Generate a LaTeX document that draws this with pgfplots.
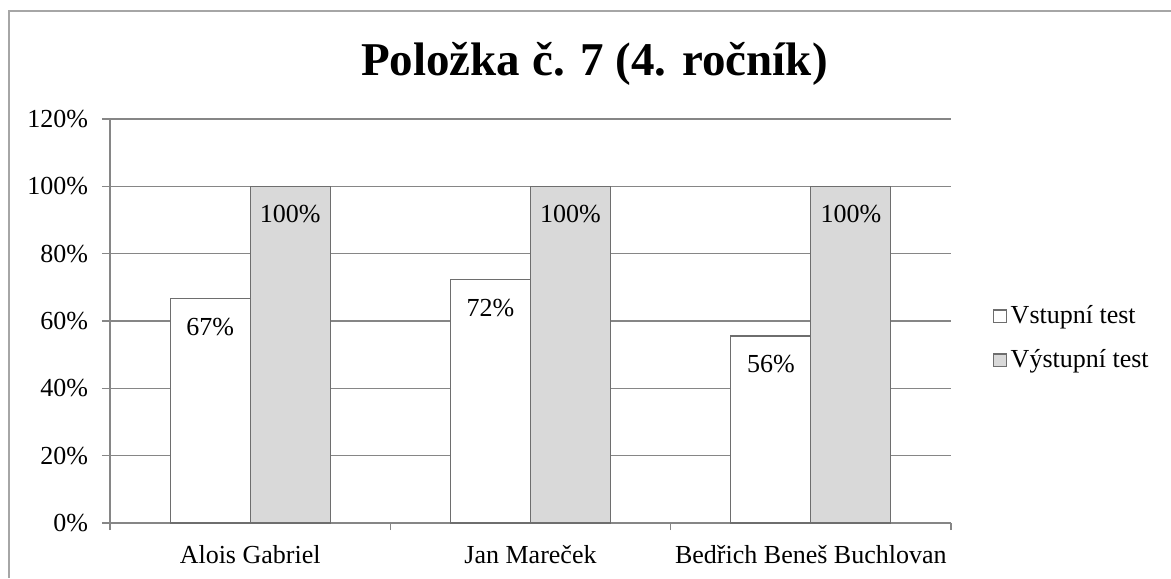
\documentclass[border=0pt]{standalone}
\usepackage{fontspec}
\setmainfont{Liberation Serif}
\usepackage{pgfplots}
\pgfplotsset{compat=1.18}
\definecolor{gridgray}{HTML}{868686}
\definecolor{bargray}{HTML}{D9D9D9}
\definecolor{edgegray}{HTML}{6E6E6E}
\definecolor{framegray}{HTML}{A6A6A6}
\newcommand{\lbl}{\fontsize{13}{15}\selectfont}
\pgfplotsset{sqlegend/.style={legend image code/.code={\draw[##1] (0pt,-3.2pt) rectangle (6.4pt,3.2pt);}}}

\begin{document}
\begin{tikzpicture}
% page = 1171 x 578 px at 0.5pt per px, axis box at (0,0)
\useasboundingbox (-55pt,-27.5pt) rectangle (530.5pt,261.5pt);
\begin{axis}[
    at={(0,0)}, anchor=south west,
    scale only axis, width=420.5pt, height=202pt,
    ybar=0pt, bar width=40pt,
    xmin=-0.5, xmax=2.5, ymin=0, ymax=120,
    xtick={0,1,2},
    xticklabels={Alois Gabriel, Jan Mareček, Bedřich Beneš Buchlovan},
    minor xtick={-0.5,0.5,1.5,2.5},
    ytick={0,20,...,120},
    yticklabel={\pgfmathprintnumber{\tick}\%},
    /pgf/number format/assume math mode=true,
    axis x line*=bottom, axis y line*=left,
    axis line style={gridgray, line width=0.8pt, -},
    ymajorgrids, grid style={gridgray, line width=0.8pt},
    tick align=outside,
    major x tick style={draw=none},
    minor x tick style={gridgray, line width=0.8pt},
    y tick style={gridgray, line width=0.8pt},
    major tick length=4pt, minor tick length=3.5pt,
    xticklabel style={font=\lbl, yshift=-3.5pt},
    yticklabel style={font=\lbl, xshift=-3.5pt},
    title={Položka č. 7 (4. ročník)},
    title style={at={(0.576,1.079)}, anchor=base, font=\bfseries\fontsize{23.5}{28}\selectfont},
    nodes near coords={\pgfmathprintnumber[fixed,precision=0]{\pgfplotspointmeta}\%},
    nodes near coords style={font=\lbl, anchor=center, yshift=-14pt, text=black},
    legend style={draw=none, fill=none, font=\lbl, at={(1.042,0.457)}, anchor=west, row sep=7.5pt},
    legend cell align=left,
]
\addplot[fill=white, draw=edgegray, line width=0.6pt, sqlegend]
    coordinates {(0,66.67) (1,72.22) (2,55.56)};
\addplot[fill=bargray, draw=edgegray, line width=0.6pt, sqlegend]
    coordinates {(0,100) (1,100) (2,100)};
\legend{Vstupní test, Výstupní test}
\end{axis}
\draw[framegray, line width=1pt] (-50.5pt,-27.5pt) -- (-50.5pt,256pt) -- (530.5pt,256pt);
\end{tikzpicture}
\end{document}
